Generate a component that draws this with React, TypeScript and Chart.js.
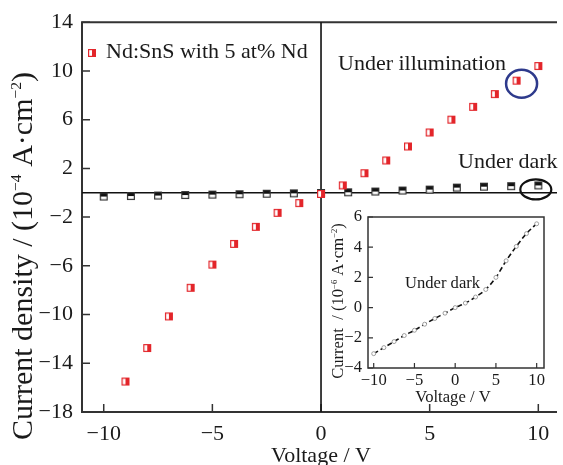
import React, { useEffect, useRef } from 'react';
import { Chart, registerables } from 'chart.js';

Chart.register(...registerables);

const FONT = '"Liberation Serif", "Times New Roman", Times, serif';

// Main chart data (current density, 10^-4 A/cm^2)
const illumV = [-9, -8, -7, -6, -5, -4, -3, -2, -1, 0, 1, 2, 3, 4, 5, 6, 7, 8, 9, 10];
const illumJ = [-15.5, -12.75, -10.15, -7.8, -5.9, -4.2, -2.8, -1.65, -0.85, -0.1, 0.6, 1.6, 2.65, 3.8, 4.95, 6.0, 7.05, 8.1, 9.2, 10.4];
const darkV = [-10, -8.75, -7.5, -6.25, -5, -3.75, -2.5, -1.25, 0, 1.25, 2.5, 3.75, 5, 6.25, 7.5, 8.75, 10];
const darkJ = [-0.31, -0.27, -0.23, -0.19, -0.15, -0.12, -0.08, -0.05, -0.02, 0.04, 0.1, 0.18, 0.26, 0.42, 0.5, 0.54, 0.6];

// Inset data (current, 10^-6 A/cm^2)
const insetV = [-10, -8.75, -7.5, -6.25, -5, -3.75, -2.5, -1.25, 0, 1.25, 2.5, 3.75, 5, 6.25, 7.5, 8.75, 10];
const insetI = [-3.05, -2.65, -2.25, -1.85, -1.5, -1.1, -0.72, -0.37, 0, 0.3, 0.7, 1.2, 2.0, 3.1, 4.05, 4.9, 5.55];

const mainXTicks = [-10, -5, 0, 5, 10];
const mainYTicks = [-18, -14, -10, -6, -2, 2, 6, 10, 14];
const insetXTicks = [-10, -5, 0, 5, 10];
const insetYTicks = [-4, -2, 0, 2, 4, 6];

const legendLabel = 'Nd:SnS with 5 at% Nd';
const illumLabel = 'Under illumination';
const darkLabel = 'Under dark';
const xTitle = 'Voltage / V';

type Seg = { t: string; sup?: boolean };
const mainYTitle: Seg[] = [
  { t: 'Current density / (10' }, { t: '\u22124', sup: true },
  { t: ' A\u00B7cm' }, { t: '\u22122', sup: true }, { t: ')' },
];
const insetYTitle: Seg[] = [
  { t: 'Current  / (10' }, { t: '\u22126', sup: true },
  { t: ' A\u00B7cm' }, { t: '\u22122', sup: true }, { t: ')' },
];

const fmt = (v: number) => (v < 0 ? '\u2212' + Math.abs(v) : String(v));

function drawRich(ctx: CanvasRenderingContext2D, segs: Seg[], x: number, y: number, size: number, align: 'left' | 'center') {
  const supScale = 0.52;
  const widths = segs.map((s) => {
    ctx.font = `${s.sup ? size * supScale : size}px ${FONT}`;
    return ctx.measureText(s.t).width;
  });
  const total = widths.reduce((a, b) => a + b, 0);
  let cx = align === 'center' ? x - total / 2 : x;
  ctx.textAlign = 'left';
  ctx.textBaseline = 'alphabetic';
  segs.forEach((s, i) => {
    ctx.font = `${s.sup ? size * supScale : size}px ${FONT}`;
    ctx.fillText(s.t, cx, s.sup ? y - size * 0.36 : y);
    cx += widths[i];
  });
}

function makeMarker(kind: 'red' | 'black'): HTMLCanvasElement {
  const c = document.createElement('canvas');
  c.width = 10;
  c.height = 10;
  const g = c.getContext('2d')!;
  g.fillStyle = '#ffffff';
  g.fillRect(1, 1, 8, 8);
  if (kind === 'red') {
    g.fillStyle = '#e3262b';
    g.fillRect(5, 1, 4, 8);
    g.strokeStyle = '#e3262b';
  } else {
    g.fillStyle = '#111111';
    g.fillRect(1, 1, 8, 4);
    g.strokeStyle = '#333333';
  }
  g.lineWidth = 1.2;
  g.strokeRect(1.6, 1.6, 6.8, 6.8);
  return c;
}

export default function App() {
  const mainRef = useRef<HTMLCanvasElement>(null);
  const insetRef = useRef<HTMLCanvasElement>(null);

  useEffect(() => {
    document.body.style.margin = '0';
    const redMarker = makeMarker('red');
    const blackMarker = makeMarker('black');

    const mainDecor = {
      id: 'mainDecor',
      beforeDatasetsDraw(chart: any) {
        const { ctx, chartArea: a, scales } = chart;
        const x = scales.x, y = scales.y;
        ctx.save();
        ctx.strokeStyle = '#333';
        ctx.lineWidth = 2;
        ctx.beginPath();
        ctx.moveTo(a.left, a.top); ctx.lineTo(a.left, a.bottom);
        ctx.moveTo(a.left - 1, a.top); ctx.lineTo(a.right, a.top);
        ctx.moveTo(a.left - 1, a.bottom); ctx.lineTo(a.right, a.bottom);
        ctx.stroke();
        ctx.lineWidth = 1.5;
        ctx.beginPath();
        mainYTicks.forEach((v) => {
          const py = y.getPixelForValue(v);
          ctx.moveTo(a.left, py); ctx.lineTo(a.left + 8, py);
        });
        mainXTicks.forEach((v) => {
          const px = x.getPixelForValue(v);
          ctx.moveTo(px, a.bottom); ctx.lineTo(px, a.bottom - 8);
        });
        ctx.stroke();
        ctx.strokeStyle = '#111';
        ctx.lineWidth = 1.6;
        ctx.beginPath();
        const x0 = x.getPixelForValue(0);
        const y0 = y.getPixelForValue(0);
        ctx.moveTo(x0, a.top); ctx.lineTo(x0, a.bottom);
        ctx.moveTo(a.left, y0); ctx.lineTo(a.right, y0);
        ctx.stroke();
        ctx.restore();
      },
      afterDraw(chart: any) {
        const { ctx, scales } = chart;
        const x = scales.x, y = scales.y;
        ctx.save();
        // circles
        ctx.strokeStyle = '#2e3a8c';
        ctx.lineWidth = 2.5;
        ctx.beginPath();
        ctx.ellipse(x.getPixelForValue(illumV[18]) + 5, y.getPixelForValue(illumJ[18]) + 3, 15.5, 14, 0, 0, Math.PI * 2);
        ctx.stroke();
        ctx.strokeStyle = '#111';
        ctx.lineWidth = 2.2;
        ctx.beginPath();
        ctx.ellipse(x.getPixelForValue(darkV[16]) - 2.5, y.getPixelForValue(darkJ[16]) + 4, 15.5, 10, 0, 0, Math.PI * 2);
        ctx.stroke();
        // texts
        ctx.fillStyle = '#1a1a1a';
        drawRich(ctx, [{ t: legendLabel }], 106, 58, 22, 'left');
        drawRich(ctx, [{ t: illumLabel }], 338, 70, 22, 'left');
        drawRich(ctx, [{ t: darkLabel }], 458, 168, 22, 'left');
        drawRich(ctx, [{ t: xTitle }], 321, 462, 22, 'center');
        ctx.save();
        ctx.translate(32, 256);
        ctx.rotate(-Math.PI / 2);
        drawRich(ctx, mainYTitle, 0, 0, 30, 'center');
        ctx.restore();
        ctx.drawImage(redMarker, 87, 48);
        ctx.restore();
      },
    };

    const mainChart = new Chart(mainRef.current!, {
      type: 'scatter',
      data: {
        datasets: [
          {
            label: legendLabel,
            data: illumV.map((v, i) => ({ x: v, y: illumJ[i] })),
            pointStyle: redMarker as any,
            pointRadius: 5,
          },
          {
            label: darkLabel,
            data: darkV.map((v, i) => ({ x: v, y: darkJ[i] })),
            pointStyle: blackMarker as any,
            pointRadius: 5,
          },
        ],
      },
      options: {
        animation: false,
        responsive: false,
        events: [],
        layout: { padding: { top: 20, left: 0, right: 0, bottom: 0 } },
        plugins: { legend: { display: false }, tooltip: { enabled: false } },
        scales: {
          x: {
            type: 'linear',
            min: -11,
            max: 10.86,
            grid: { display: false, drawTicks: false },
            border: { display: false },
            afterBuildTicks: (s: any) => { s.ticks = mainXTicks.map((v) => ({ value: v })); },
            afterFit: (s: any) => { s.height = 53; },
            ticks: {
              padding: 9,
              color: '#1a1a1a',
              font: { family: FONT, size: 22 },
              callback: (v: any) => fmt(Number(v)),
              maxRotation: 0,
            },
          },
          y: {
            type: 'linear',
            min: -18,
            max: 14,
            grid: { display: false, drawTicks: false },
            border: { display: false },
            afterBuildTicks: (s: any) => { s.ticks = mainYTicks.map((v) => ({ value: v })); },
            afterFit: (s: any) => { s.width = 82; },
            ticks: {
              padding: 9,
              color: '#1a1a1a',
              font: { family: FONT, size: 22 },
              callback: (v: any) => fmt(Number(v)),
            },
          },
        },
      },
      plugins: [mainDecor],
    } as any);

    const insetDecor = {
      id: 'insetDecor',
      beforeDatasetsDraw(chart: any) {
        const { ctx, chartArea: a, scales } = chart;
        const x = scales.x, y = scales.y;
        ctx.save();
        ctx.fillStyle = '#ffffff';
        ctx.fillRect(a.left, a.top, a.right - a.left, a.bottom - a.top);
        ctx.strokeStyle = '#333';
        ctx.lineWidth = 1.5;
        ctx.strokeRect(a.left, a.top, a.right - a.left, a.bottom - a.top);
        ctx.lineWidth = 1.2;
        ctx.beginPath();
        insetYTicks.forEach((v) => {
          const py = y.getPixelForValue(v);
          ctx.moveTo(a.left, py); ctx.lineTo(a.left + 5, py);
        });
        insetXTicks.forEach((v) => {
          const px = x.getPixelForValue(v);
          ctx.moveTo(px, a.bottom); ctx.lineTo(px, a.bottom - 5);
        });
        ctx.stroke();
        ctx.restore();
      },
      afterDraw(chart: any) {
        const { ctx } = chart;
        ctx.save();
        ctx.fillStyle = '#1a1a1a';
        drawRich(ctx, [{ t: darkLabel }], 85, 88, 16.6, 'left');
        drawRich(ctx, [{ t: xTitle }], 133, 201.5, 16.6, 'center');
        ctx.translate(23, 101);
        ctx.rotate(-Math.PI / 2);
        drawRich(ctx, insetYTitle, 0, 0, 16.6, 'center');
        ctx.restore();
      },
    };

    const insetChart = new Chart(insetRef.current!, {
      type: 'line',
      data: {
        datasets: [
          {
            label: darkLabel,
            data: insetV.map((v, i) => ({ x: v, y: insetI[i] })),
            borderColor: '#111',
            borderWidth: 1.6,
            borderDash: [5, 3],
            cubicInterpolationMode: 'monotone',
            pointStyle: 'circle',
            pointRadius: 2,
            pointBackgroundColor: '#ffffff',
            pointBorderColor: '#8a8a8a',
            pointBorderWidth: 0.8,
            fill: false,
          },
        ],
      },
      options: {
        animation: false,
        responsive: false,
        events: [],
        layout: { padding: { top: 17, left: 0, right: 16, bottom: 0 } },
        plugins: { legend: { display: false }, tooltip: { enabled: false } },
        scales: {
          x: {
            type: 'linear',
            min: -10.7,
            max: 10.9,
            grid: { display: false, drawTicks: false },
            border: { display: false },
            afterBuildTicks: (s: any) => { s.ticks = insetXTicks.map((v) => ({ value: v })); },
            afterFit: (s: any) => { s.height = 44; },
            ticks: {
              padding: 3,
              color: '#1a1a1a',
              font: { family: FONT, size: 16.6 },
              callback: (v: any) => fmt(Number(v)),
              maxRotation: 0,
            },
          },
          y: {
            type: 'linear',
            min: -4,
            max: 6,
            grid: { display: false, drawTicks: false },
            border: { display: false },
            afterBuildTicks: (s: any) => { s.ticks = insetYTicks.map((v) => ({ value: v })); },
            afterFit: (s: any) => { s.width = 48; },
            ticks: {
              padding: 6,
              color: '#1a1a1a',
              font: { family: FONT, size: 16.6 },
              callback: (v: any) => fmt(Number(v)),
            },
          },
        },
      },
      plugins: [insetDecor],
    } as any);

    return () => {
      mainChart.destroy();
      insetChart.destroy();
    };
  }, []);

  return (
    <div style={{ position: 'relative', width: 563, height: 465, background: '#fff' }}>
      <canvas ref={mainRef} width={563} height={465} style={{ position: 'absolute', left: 0, top: 0 }} />
      <canvas ref={insetRef} width={240} height={212} style={{ position: 'absolute', left: 320, top: 200 }} />
    </div>
  );
}
